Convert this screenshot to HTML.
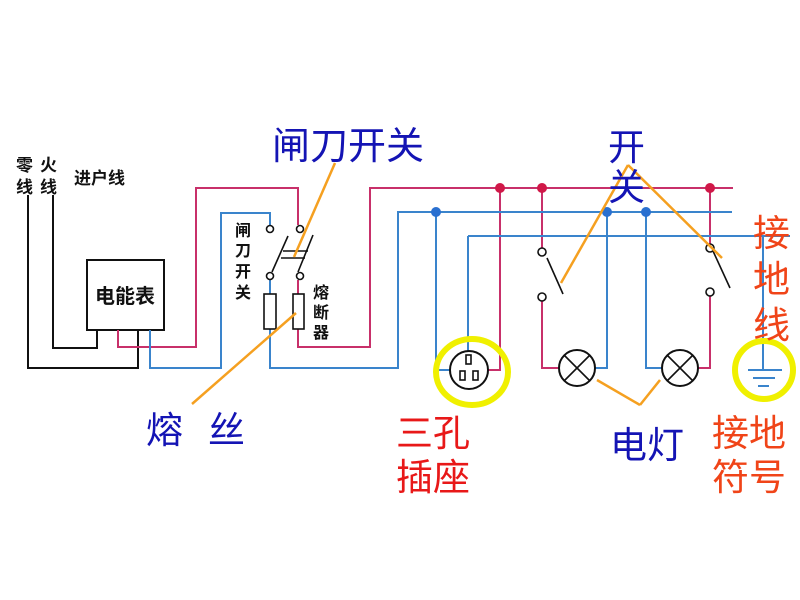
<!DOCTYPE html>
<html><head><meta charset="utf-8"><style>
html,body{margin:0;padding:0;background:#fff;}
svg{display:block}
text{font-family:"Liberation Sans","Noto Sans CJK SC",sans-serif;}
</style></head><body>
<svg width="800" height="600" viewBox="0 0 800 600" xmlns="http://www.w3.org/2000/svg">
<g fill="none" stroke-width="2">
<polyline points="28,195 28,368 138,368 138,330" stroke="#111"/>
<polyline points="53,195 53,348 97,348 97,330" stroke="#111"/>
<rect x="87" y="260" width="77" height="70" stroke="#111"/>
<g stroke="#c8306a">
<polyline points="118,330 118,347 196,347 196,188 298,188 298,225"/>
<polyline points="298,280 298,294"/>
<polyline points="298,329 298,347 370,347 370,188 733,188"/>
<polyline points="500,188 500,370 488,370"/>
<polyline points="542,188 542,248"/>
<polyline points="542,301 542,368 559,368"/>
<polyline points="710,188 710,244"/>
<polyline points="710,296 710,368 698,368"/>
</g>
<g stroke="#3a84cc">
<polyline points="150,330 150,368 221,368 221,213 270,213 270,225"/>
<polyline points="270,280 270,294"/>
<polyline points="270,329 270,368 398,368 398,212 732,212"/>
<polyline points="468,236 790,236"/>
<polyline points="763,236 763,370"/>
<polyline points="468,236 468,351"/>
<polyline points="436,212 436,370 450,370"/>
<polyline points="607,212 607,368 595,368"/>
<polyline points="646,212 646,368 662,368"/>
<line x1="748" y1="370" x2="782" y2="370"/>
<line x1="753" y1="378" x2="775" y2="378"/>
<line x1="758" y1="386" x2="769" y2="386"/>
</g>
<g stroke="#111" stroke-width="1.6">
<circle cx="270" cy="229" r="3.5" fill="#fff"/>
<circle cx="270" cy="276" r="3.5" fill="#fff"/>
<circle cx="300" cy="229" r="3.5" fill="#fff"/>
<circle cx="300" cy="276" r="3.5" fill="#fff"/>
<line x1="272" y1="272" x2="288" y2="236"/>
<line x1="298" y1="272" x2="313" y2="235"/>
<line x1="281" y1="258" x2="305" y2="258"/>
<line x1="283" y1="251" x2="308" y2="251"/>
<rect x="264" y="294" width="12" height="35"/>
<rect x="293" y="294" width="11" height="35"/>
<circle cx="542" cy="252" r="4" fill="#fff"/>
<circle cx="542" cy="297" r="4" fill="#fff"/>
<line x1="547" y1="258" x2="563" y2="294"/>
<circle cx="710" cy="248" r="4" fill="#fff"/>
<circle cx="710" cy="292" r="4" fill="#fff"/>
<line x1="713" y1="251" x2="730" y2="288"/>
<circle cx="469" cy="370" r="19" stroke-width="2"/>
<rect x="466" y="355" width="5" height="9"/>
<rect x="460" y="371" width="5" height="9"/>
<rect x="473" y="371" width="5" height="9"/>
<circle cx="577" cy="368" r="18" stroke-width="2"/>
<line x1="564" y1="355" x2="590" y2="381"/><line x1="590" y1="355" x2="564" y2="381"/>
<circle cx="680" cy="368" r="18" stroke-width="2"/>
<line x1="667" y1="355" x2="693" y2="381"/><line x1="693" y1="355" x2="667" y2="381"/>
</g>
<g fill="#d01848"><circle cx="500" cy="188" r="5"/><circle cx="542" cy="188" r="5"/><circle cx="710" cy="188" r="5"/></g>
<g fill="#2a70d0"><circle cx="436" cy="212" r="5"/><circle cx="607" cy="212" r="5"/><circle cx="646" cy="212" r="5"/></g>
<ellipse cx="472" cy="372" rx="36" ry="33" stroke="#f0f000" stroke-width="6" fill="none"/>
<circle cx="764" cy="370" r="29" stroke="#f0f000" stroke-width="6" fill="none"/>
<g stroke="#f5a020" stroke-width="2.5">
<line x1="335" y1="163" x2="294" y2="257"/>
<line x1="296" y1="313" x2="192" y2="404"/>
<line x1="628" y1="165" x2="561" y2="283"/>
<line x1="628" y1="165" x2="722" y2="258"/>
<line x1="597" y1="380" x2="640" y2="405"/>
<line x1="660" y1="380" x2="640" y2="405"/>
</g>
</g>
<g fill="#111" font-weight="bold" font-size="17">
<text x="16" y="171">零</text><text x="16" y="193">线</text>
<text x="40" y="171">火</text><text x="40" y="193">线</text>
<text x="74" y="184">进户线</text>
<text x="95" y="303" font-size="20">电能表</text>
<text x="235" y="236" font-size="16">闸</text><text x="235" y="256" font-size="16">刀</text>
<text x="235" y="277" font-size="16">开</text><text x="235" y="298" font-size="16">关</text>
<text x="313" y="298" font-size="16">熔</text><text x="313" y="318" font-size="16">断</text>
<text x="313" y="338" font-size="16">器</text>
</g>
<g font-size="37">
<text x="272" y="159" fill="#1414b4" font-size="38">闸刀开关</text>
<text x="608" y="160" fill="#1414b4">开</text>
<text x="608" y="200" fill="#1414b4">关</text>
<text x="146" y="443" fill="#1414b4">熔</text>
<text x="208" y="443" fill="#1414b4">丝</text>
<text x="396" y="446" fill="#e81818">三孔</text>
<text x="396" y="490" fill="#e81818">插座</text>
<text x="610" y="458" fill="#1414b4">电灯</text>
<text x="712" y="446" fill="#f04418">接地</text>
<text x="712" y="490" fill="#f04418">符号</text>
<text x="753" y="246" fill="#f04418">接</text>
<text x="753" y="292" fill="#f04418">地</text>
<text x="753" y="338" fill="#f04418">线</text>
</g>
</svg>
</body></html>
